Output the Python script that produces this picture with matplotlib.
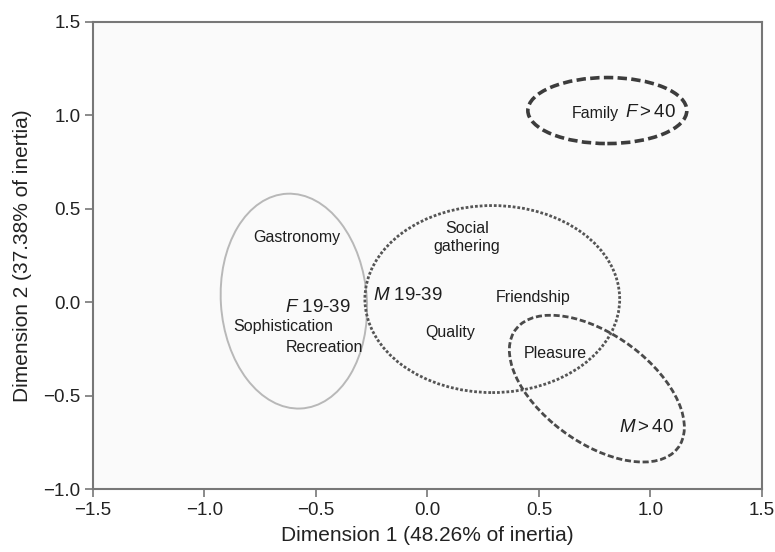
import matplotlib
matplotlib.use("Agg")
import matplotlib.pyplot as plt
from matplotlib.patches import Ellipse

plt.rcParams['font.family'] = ['Liberation Sans', 'DejaVu Sans']
plt.rcParams['mathtext.fontset'] = 'custom'
plt.rcParams['mathtext.rm'] = 'Liberation Sans'
plt.rcParams['mathtext.it'] = 'Liberation Sans:italic'

# group ellipses (centre x, centre y, width, height, angle)
group_names = ["F 19-39", "M 19-39", "F > 40", "M > 40"]
ell_cx = [-0.599, 0.291, 0.807, 0.760]
ell_cy = [0.005, 0.016, 1.024, -0.463]
ell_w = [0.655, 1.143, 0.713, 0.97]
ell_h = [1.15, 1.0, 0.353, 0.54]
ell_angle = [3, 0, 0, -45]

# motive labels
motives = ["Gastronomy", "Social\ngathering", "Friendship", "Sophistication",
           "Quality", "Recreation", "Pleasure", "Family"]
motive_x = [-0.585, 0.177, 0.473, -0.648, 0.101, -0.460, 0.572, 0.752]
motive_y = [0.345, 0.345, 0.025, -0.13, -0.163, -0.244, -0.275, 1.008]

# group labels
group_labels = ["$F$ 19-39", "$M$ 19-39", "$F>40$", "$M>40$"]
group_x = [-0.491, -0.087, 1.002, 0.984]
group_y = [-0.03, 0.035, 1.012, -0.67]

edge_colors = ["#b8b8b8", "#555555", "#3c3c3c", "#4a4a4a"]
line_styles = ["-", (0, (1, 0.7)), (0, (2.6, 1.2)), (0, (2.2, 1.0))]
line_widths = [1.4, 2.0, 2.6, 2.0]

fig = plt.figure(figsize=(7.75, 5.52), dpi=100)
ax = fig.add_axes([0.12, 0.114, 0.863, 0.847])
ax.set_facecolor("#fafafa")

for i in range(len(group_names)):
    e = Ellipse((ell_cx[i], ell_cy[i]), ell_w[i], ell_h[i], angle=ell_angle[i],
                fill=False, edgecolor=edge_colors[i], linestyle=line_styles[i],
                linewidth=line_widths[i])
    ax.add_patch(e)

for name, x, y in zip(motives, motive_x, motive_y):
    ax.text(x, y, name, ha="center", va="center", fontsize=11.5, color="#1e1e1e",
            linespacing=1.2)

for name, x, y in zip(group_labels, group_x, group_y):
    ax.text(x, y, name, ha="center", va="center", fontsize=13.5, color="#1e1e1e")

ax.set_xlim(-1.5, 1.5)
ax.set_ylim(-1.0, 1.5)
ax.set_xticks([-1.5, -1.0, -0.5, 0.0, 0.5, 1.0, 1.5])
ax.set_yticks([-1.0, -0.5, 0.0, 0.5, 1.0, 1.5])
ax.set_xticklabels(["\u22121.5", "\u22121.0", "\u22120.5", "0.0", "0.5", "1.0", "1.5"])
ax.set_yticklabels(["\u22121.0", "\u22120.5", "0.0", "0.5", "1.0", "1.5"])
ax.tick_params(direction="out", length=6, width=1.2, color="#777777",
               labelsize=13.5, labelcolor="#222222", pad=3)
for s in ax.spines.values():
    s.set_color("#777777")
    s.set_linewidth(1.5)

ax.set_xlabel("Dimension 1 (48.26% of inertia)", fontsize=15, color="#222222", labelpad=5)
ax.set_ylabel("Dimension 2 (37.38% of inertia)", fontsize=15, color="#222222", labelpad=8)

fig.savefig("out.png", dpi=100)
